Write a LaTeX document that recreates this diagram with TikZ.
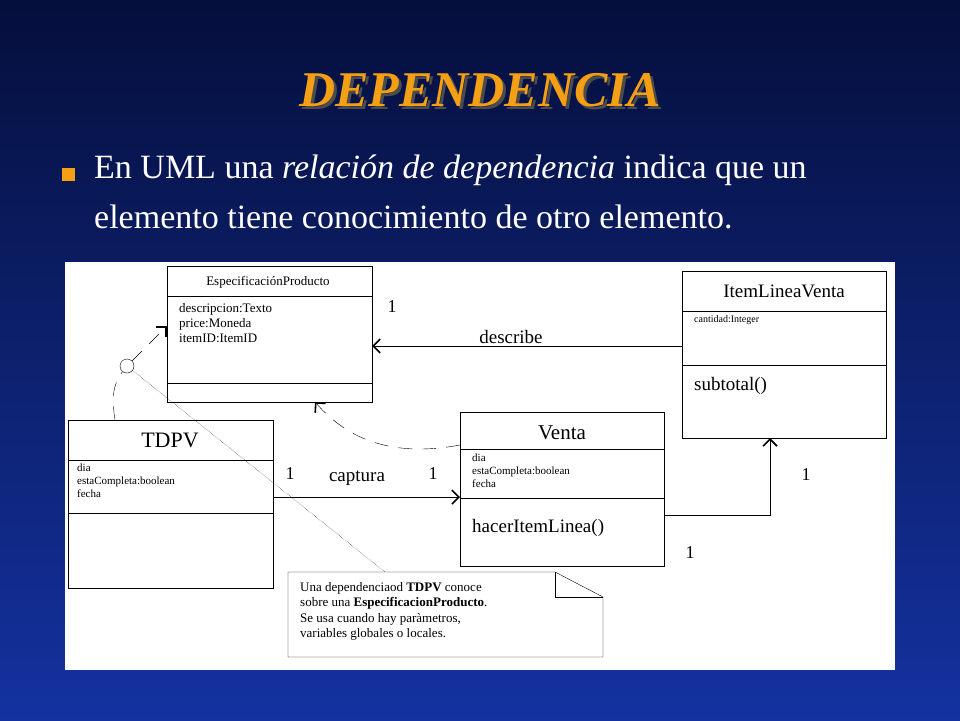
\documentclass[tikz,border=0pt]{standalone}
\usepackage{fontspec}
\setmainfont{Liberation Serif}
\usetikzlibrary{arrows,arrows.meta,calc,positioning}
\definecolor{slideblue}{RGB}{20,50,160}
\definecolor{slidedark}{RGB}{5,15,60}
\definecolor{titleorange}{RGB}{245,160,20}
\tikzstyle{line} = [draw, thin]

\begin{document}
\begin{tikzpicture}[
            x = 1pt, y = -1pt,
            > = stealth, % arrow head style
            open/.style = {-{Straight Barb[length=7pt,width=14pt,line width=1.6pt]}},
            classbox/.style = {draw = black, fill = white, inner sep = 0pt},
            small/.style = {font = \fontsize{10}{11}\selectfont, align = left, anchor = north west, inner sep = 0pt},
            big/.style = {font = \fontsize{19}{22}\selectfont, inner sep = 0pt},
            mult/.style = {font = \fontsize{18}{20}\selectfont, inner sep = 0pt}
        ]

        % background
        \shade[top color = slidedark, bottom color = slideblue] (0,0) rectangle (960,720);
        \useasboundingbox (0,0) rectangle (960,720);

        \node[font = \bfseries\itshape\fontsize{50}{56}\selectfont, text = black!70] (shadow) at (483,93) {DEPENDENCIA};
        \node[font = \bfseries\itshape\fontsize{50}{56}\selectfont, text = titleorange] (title) at (480,90) {DEPENDENCIA};
        \fill[titleorange] (62,168) rectangle (75,181);
        \node[font = \fontsize{34}{50}\selectfont, text = white, align = left, anchor = north west, inner sep = 0pt] (bullet) at (94,155)
            {En UML una \textit{relación de dependencia} indica que un\\elemento tiene conocimiento de otro elemento.};

        % white panel
        \fill[white] (65,262) rectangle (895,670);

        % classes
        \draw[classbox] (167,266) rectangle (372,402);
        \draw (167,296) -- (372,296) (167,383) -- (372,383);
        \node[font = \fontsize{13}{14}\selectfont] (espec) at (268,282) {EspecificaciónProducto};
        \node[small, font = \fontsize{13}{15}\selectfont] (especattr) at (179,303) {descripcion:Texto\\price:Moneda\\itemID:ItemID};
        \coordinate (especL) at (167,326);
        \coordinate (especR) at (372,346);
        \coordinate (especB) at (315,402);

        \draw[classbox] (682,271) rectangle (886,438);
        \draw (682,311) -- (886,311) (682,365) -- (886,365);
        \node[big] (item) at (784,291) {ItemLineaVenta};
        \node[small] (itemattr) at (694,315) {cantidad:Integer};
        \node[big, anchor = west] (itemop) at (694,386) {subtotal()};
        \coordinate (itemL) at (682,346);
        \coordinate (itemB) at (770,438);

        \draw[classbox] (68,420) rectangle (273,588);
        \draw (68,460) -- (273,460) (68,513) -- (273,513);
        \node[font = \fontsize{22}{24}\selectfont] (tdpv) at (170,440) {TDPV};
        \node[small, font = \fontsize{11}{13}\selectfont] (tdpvattr) at (77,464) {dia\\estaCompleta:boolean\\fecha};
        \coordinate (tdpvR) at (273,497);
        \coordinate (tdpvT) at (115,420);

        \draw[classbox] (460,412) rectangle (664,566);
        \draw (460,449) -- (664,449) (460,498) -- (664,498);
        \node[big, font = \fontsize{21}{24}\selectfont] (venta) at (562,433) {Venta};
        \node[small, font = \fontsize{11}{13}\selectfont] (ventaattr) at (472,454) {dia\\estaCompleta:boolean\\fecha};
        \node[big, anchor = west] (ventaop) at (472,528) {hacerItemLinea()};
        \coordinate (ventaL) at (460,497);
        \coordinate (ventaR) at (664,515);
        \coordinate (ventaT) at (460,445);
        \coordinate (bend) at (770,515);

        % note
        \draw[fill = white] (288,572) -- (555,572) -- (603,597) -- (603,657) -- (288,657) -- cycle;
        \draw (555,572) -- (555,597) -- (603,597);
        \node[small, font = \fontsize{13}{15.5}\selectfont] (note) at (300,582)
            {Una dependenciaod \textbf{TDPV} conoce\\sobre una \textbf{EspecificacionProducto}.\\Se usa cuando hay paràmetros,\\variables globales o locales.};
        \coordinate (noteT) at (385,572);

        % connectors
        \draw[open] (itemL) -- (especR);
        \draw[open] (tdpvR) -- (ventaL);
        \draw[open] (ventaR) -- (bend) -- (itemB);
        \draw[open, dashed, dash pattern = on 14pt off 10pt] (ventaT) .. controls (380,460) and (340,430) .. (especB);
        \node[draw, circle, minimum size = 14pt, inner sep = 0pt] (dep) at (127,366) {};
        \draw[dashed, dash pattern = on 14pt off 10pt] (tdpvT) .. controls (112,400) and (112,385) .. (dep);
        \draw[open, dashed, dash pattern = on 14pt off 10pt] (dep) -- (especL);
        \draw[densely dotted] (dep) -- (noteT);

        % labels
        \node[mult] (m1) at (392,307) {1};
        \node[big] (describe) at (511,337) {describe};
        \node[mult] (m2) at (290,474) {1};
        \node[big] (captura) at (357,478) {captura};
        \node[mult] (m3) at (433,474) {1};
        \node[mult] (m4) at (806,475) {1};
        \node[mult] (m5) at (690,553) {1};

    \end{tikzpicture}
\end{document}
